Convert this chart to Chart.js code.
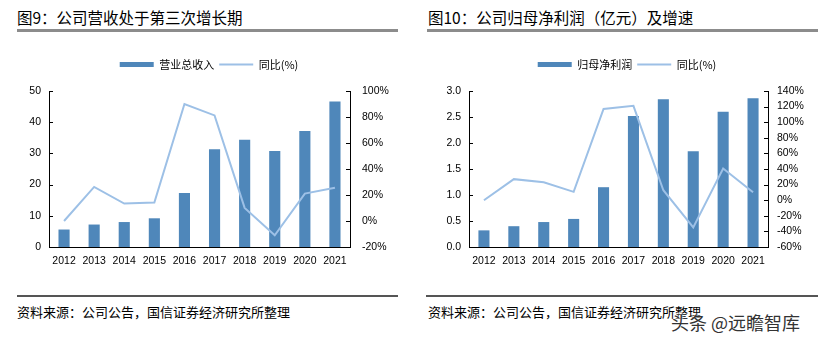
<!DOCTYPE html>
<html>
<head>
<meta charset="utf-8">
<script src="https://cdn.jsdelivr.net/npm/chart.js@4.4.1/dist/chart.umd.min.js"></script>
<style>
  html, body { margin: 0; padding: 0; background: #fff; }
  body { width: 836px; height: 341px; position: relative; overflow: hidden;
         font-family: "Noto Sans CJK SC", "Liberation Sans", sans-serif; color: #000; }
  .title { position: absolute; top: 6px; font-size: 15.5px; line-height: 22px; white-space: nowrap; }
  .rule { position: absolute; top: 29px; height: 3px; background: #8c8c8c; }
  .sep { position: absolute; top: 295px; height: 1.5px; background: #555; }
  .src { position: absolute; top: 302px; font-size: 13px; line-height: 19px; white-space: nowrap; }
  .box { position: absolute; top: 40px; width: 418px; height: 250px; }
  .wm { position: absolute; left: 671px; top: 310px; font-size: 18px; line-height: 24px; color: #333;
        text-shadow: 0 0 2px #fff, 0 0 2px #fff; white-space: nowrap; }
</style>
</head>
<body>
<div class="title" style="left:17px">图9：公司营收处于第三次增长期</div>
<div class="rule" style="left:17px;width:381px"></div>
<div class="title" style="left:428px">图10：公司归母净利润（亿元）及增速</div>
<div class="rule" style="left:427px;width:391px"></div>

<div class="box" style="left:0"><canvas id="c1"></canvas></div>
<div class="box" style="left:418px"><canvas id="c2"></canvas></div>

<div class="sep" style="left:17px;width:381px"></div>
<div class="sep" style="left:426px;width:392px"></div>
<div class="src" style="left:17px">资料来源：公司公告，国信证券经济研究所整理</div>
<div class="src" style="left:428px">资料来源：公司公告，国信证券经济研究所整理</div>
<div class="wm">头条 @远瞻智库</div>

<script>
// 年份
const YEARS = ['2012', '2013', '2014', '2015', '2016', '2017', '2018', '2019', '2020', '2021'];
// 图9:营业总收入(亿元)+ 同比(%)
const REVENUE = [5.6, 7.2, 8.0, 9.2, 17.3, 31.3, 34.4, 30.8, 37.2, 46.6];
const REVENUE_YOY = [0, 26.2, 13.4, 14.2, 90, 81.2, 10.1, -11, 21.1, 25.5];
// 图10:归母净利润(亿元)+ 同比(%)
const PROFIT = [0.32, 0.40, 0.48, 0.54, 1.15, 2.52, 2.84, 1.84, 2.60, 2.86];
const PROFIT_YOY = [0, 27, 23, 10.7, 117, 121, 12.8, -35, 40.7, 10.3];

const BAR = '#4f87ba', LINE = '#9dc0e6';
const TICK_FONT = { family: '"Liberation Sans", Arial, sans-serif', size: 10.5 };

// 刻度线画在轴内侧(原图是朝内的短刻度)
const innerTicks = {
  id: 'innerTicks',
  afterDraw(chart) {
    const { ctx, chartArea } = chart;
    ctx.save();
    ctx.strokeStyle = '#000';
    ctx.lineWidth = 1;
    ['y', 'y1'].forEach((id) => {
      const s = chart.scales[id];
      const x0 = id === 'y' ? chartArea.left : chartArea.right;
      const dir = id === 'y' ? 1 : -1;
      s.ticks.forEach((t) => {
        const y = Math.round(s.getPixelForValue(t.value)) + 0.5;
        ctx.beginPath();
        ctx.moveTo(x0, y);
        ctx.lineTo(x0 + dir * 4, y);
        ctx.stroke();
      });
    });
    ctx.restore();
  },
};

function makeChart(id, barLabel, bars, yoy, yOpt, y1Opt, leftW) {
  return new Chart(document.getElementById(id), {
    data: {
      labels: YEARS,
      datasets: [
        { type: 'line', label: '同比(%)', data: yoy, yAxisID: 'y1', borderColor: LINE, backgroundColor: LINE,
          borderWidth: 2, pointRadius: 0, tension: 0, order: 0, pointStyle: 'line' },
        { type: 'bar', label: barLabel, data: bars, yAxisID: 'y', backgroundColor: BAR, borderWidth: 0,
          barPercentage: 0.37, categoryPercentage: 1, order: 1, pointStyle: 'rect' },
      ],
    },
    options: {
      responsive: true, maintainAspectRatio: false, animation: false,
      layout: { padding: { top: 14, right: 0, left: 0, bottom: 0 } },
      plugins: {
        tooltip: { enabled: false },
        legend: {
          reverse: true,
          labels: {
            usePointStyle: true, pointStyleWidth: 34, boxHeight: 5, padding: 5, color: '#000',
            font: { family: '"Noto Sans CJK SC", sans-serif', size: 11 },
          },
        },
        // 空白副标题,只用来把图例和绘图区隔开
        subtitle: { display: true, text: '', weight: 500, padding: 0, font: { size: 10, lineHeight: 1.1 } },
      },
      scales: {
        x: {
          grid: { display: false, drawTicks: false },
          border: { color: '#000', width: 1 },
          ticks: { color: '#000', font: TICK_FONT, padding: 8, maxRotation: 0 },
          afterFit: (s) => { s.height = 43; },
        },
        y: Object.assign({
          position: 'left',
          grid: { display: false, drawTicks: false },
          border: { color: '#000', width: 1 },
          afterFit: (s) => { s.width = leftW; },
        }, yOpt),
        y1: Object.assign({
          position: 'right',
          grid: { display: false, drawTicks: false },
          border: { color: '#000', width: 1 },
          afterFit: (s) => { s.width = 68; },
        }, y1Opt),
      },
    },
    plugins: [innerTicks],
  });
}

makeChart('c1', '营业总收入', REVENUE, REVENUE_YOY,
  { min: 0, max: 50, ticks: { stepSize: 10, color: '#000', font: TICK_FONT, padding: 8 } },
  { min: -20, max: 100, ticks: { stepSize: 20, color: '#000', font: TICK_FONT, padding: 12, callback: (v) => v + '%' } },
  49);

makeChart('c2', '归母净利润', PROFIT, PROFIT_YOY,
  { min: 0, max: 3, ticks: { stepSize: 0.5, color: '#000', font: TICK_FONT, padding: 8, callback: (v) => v.toFixed(1) } },
  { min: -60, max: 140, ticks: { stepSize: 20, color: '#000', font: TICK_FONT, padding: 9, callback: (v) => v + '%' } },
  51);
</script>
</body>
</html>
